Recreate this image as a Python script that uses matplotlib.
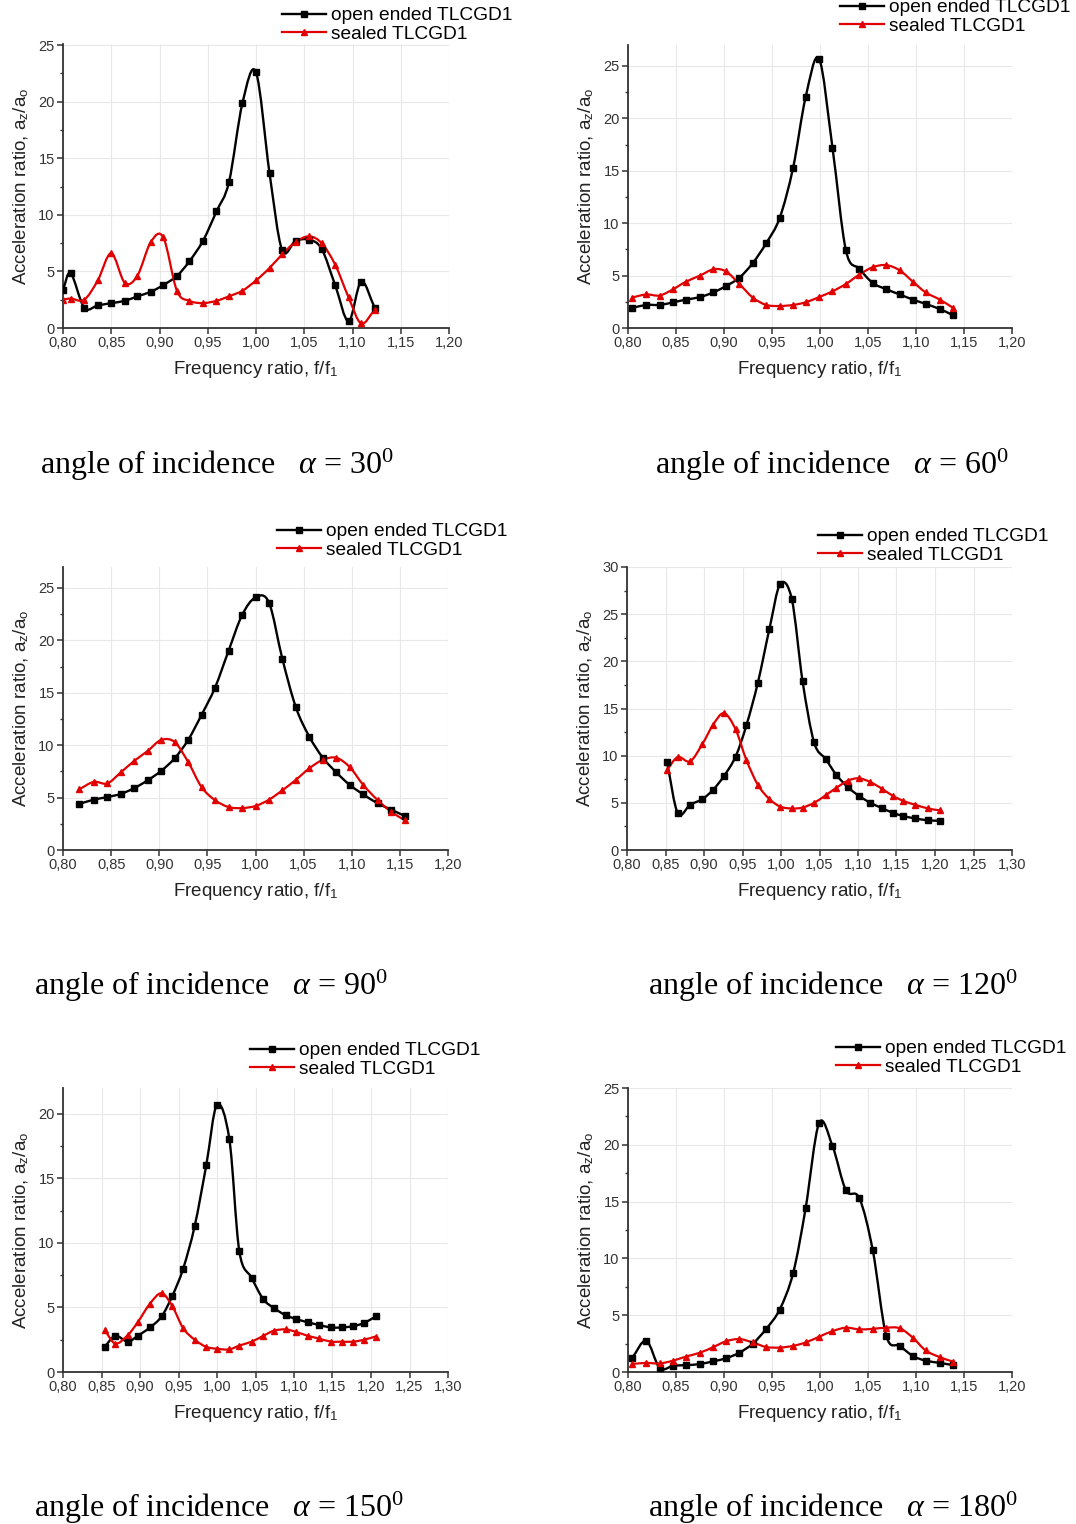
import numpy as np
import matplotlib
matplotlib.use("Agg")
import matplotlib.pyplot as plt
from matplotlib.path import Path
from matplotlib.patches import PathPatch
from matplotlib.lines import Line2D
from matplotlib.ticker import MultipleLocator, FuncFormatter

plt.rcParams['font.family'] = ['Liberation Sans', 'DejaVu Sans']
plt.rcParams['mathtext.fontset'] = 'custom'
plt.rcParams['mathtext.rm'] = 'Liberation Serif'
plt.rcParams['mathtext.it'] = 'Liberation Serif:italic'
plt.rcParams['mathtext.sf'] = 'Liberation Sans'

# ---- data ----
# alpha = 30
f30 = [0.800, 0.808, 0.822, 0.836, 0.850, 0.864, 0.877, 0.891, 0.904, 0.918, 0.931, 0.945, 0.959,
       0.972, 0.986, 1.000, 1.014, 1.027, 1.041, 1.055, 1.068, 1.082, 1.096, 1.109, 1.123]
open30 = [3.4, 4.85, 1.8, 2.0, 2.2, 2.4, 2.8, 3.2, 3.8, 4.6, 5.9, 7.7, 10.3,
          12.9, 19.9, 22.6, 13.7, 6.9, 7.7, 7.8, 7.0, 3.8, 0.6, 4.1, 1.8]
sealed30 = [2.5, 2.6, 2.5, 4.2, 6.6, 4.0, 4.6, 7.6, 8.0, 3.3, 2.4, 2.2, 2.4,
            2.8, 3.3, 4.2, 5.3, 6.5, 7.6, 8.1, 7.5, 5.6, 2.7, 0.4, 1.6]

# alpha = 60
f60 = [0.804, 0.819, 0.833, 0.847, 0.860, 0.875, 0.889, 0.902, 0.916, 0.930, 0.944, 0.958, 0.972,
       0.985, 0.999, 1.013, 1.027, 1.041, 1.055, 1.069, 1.083, 1.097, 1.110, 1.125, 1.139]
open60 = [1.9, 2.2, 2.2, 2.45, 2.7, 2.95, 3.4, 4.0, 4.8, 6.2, 8.1, 10.5, 15.3,
          22.0, 25.7, 17.2, 7.4, 5.65, 4.3, 3.7, 3.2, 2.7, 2.3, 1.8, 1.2]
sealed60 = [2.9, 3.2, 3.1, 3.7, 4.4, 5.0, 5.6, 5.4, 4.2, 2.9, 2.2, 2.1, 2.2,
            2.45, 2.95, 3.5, 4.2, 5.1, 5.8, 6.0, 5.5, 4.4, 3.4, 2.7, 1.9]

# alpha = 90
f90 = [0.817, 0.832, 0.846, 0.860, 0.874, 0.888, 0.902, 0.916, 0.930, 0.944, 0.958, 0.972, 0.986,
       1.000, 1.014, 1.028, 1.042, 1.056, 1.070, 1.084, 1.098, 1.112, 1.127, 1.141, 1.155]
open90 = [4.4, 4.8, 5.05, 5.35, 5.9, 6.65, 7.55, 8.75, 10.5, 12.9, 15.5, 19.0, 22.4,
          24.1, 23.6, 18.2, 13.6, 10.8, 8.8, 7.4, 6.2, 5.3, 4.45, 3.85, 3.25]
sealed90 = [5.8, 6.5, 6.35, 7.4, 8.5, 9.45, 10.5, 10.3, 8.4, 6.0, 4.75, 4.1, 4.0,
            4.2, 4.8, 5.7, 6.7, 7.8, 8.6, 8.8, 7.9, 6.2, 4.75, 3.65, 2.85]

# alpha = 120
f120 = [0.852, 0.866, 0.882, 0.898, 0.912, 0.926, 0.941, 0.955, 0.970, 0.985, 0.999, 1.014, 1.028,
        1.043, 1.058, 1.072, 1.087, 1.101, 1.116, 1.131, 1.145, 1.159, 1.174, 1.191, 1.206]
open120 = [9.3, 3.9, 4.8, 5.4, 6.4, 7.85, 9.9, 13.2, 17.75, 23.45, 28.2, 26.6, 17.9,
           11.4, 9.65, 7.95, 6.65, 5.75, 5.0, 4.45, 3.95, 3.6, 3.35, 3.15, 3.1]
sealed120 = [8.5, 9.85, 9.4, 11.25, 13.3, 14.5, 12.8, 9.55, 6.9, 5.4, 4.6, 4.4, 4.5,
             5.0, 5.8, 6.6, 7.35, 7.6, 7.2, 6.5, 5.75, 5.2, 4.8, 4.4, 4.2]

# alpha = 150
f150 = [0.854, 0.868, 0.884, 0.897, 0.913, 0.928, 0.942, 0.956, 0.971, 0.986, 1.000, 1.016, 1.029,
        1.045, 1.060, 1.074, 1.089, 1.103, 1.118, 1.132, 1.148, 1.162, 1.177, 1.191, 1.206]
open150 = [1.95, 2.8, 2.35, 2.8, 3.45, 4.3, 5.9, 8.0, 11.3, 16.0, 20.7, 18.05, 9.35,
           7.3, 5.65, 4.95, 4.4, 4.1, 3.85, 3.65, 3.45, 3.45, 3.55, 3.8, 4.3]
sealed150 = [3.25, 2.2, 2.85, 3.85, 5.3, 6.1, 5.1, 3.4, 2.5, 1.95, 1.8, 1.75, 2.05,
             2.35, 2.8, 3.2, 3.3, 3.1, 2.8, 2.6, 2.35, 2.35, 2.35, 2.5, 2.75]

# alpha = 180
f180 = [0.804, 0.819, 0.833, 0.847, 0.860, 0.875, 0.889, 0.902, 0.916, 0.930, 0.944, 0.958, 0.972,
        0.985, 0.999, 1.013, 1.027, 1.041, 1.055, 1.069, 1.083, 1.097, 1.110, 1.125, 1.139]
open180 = [1.2, 2.75, 0.35, 0.55, 0.6, 0.7, 0.95, 1.2, 1.7, 2.5, 3.8, 5.5, 8.7,
           14.4, 21.9, 19.9, 16.0, 15.3, 10.7, 3.2, 2.3, 1.4, 1.0, 0.8, 0.6]
sealed180 = [0.7, 0.8, 0.75, 1.0, 1.35, 1.7, 2.2, 2.7, 2.9, 2.6, 2.2, 2.15, 2.3,
             2.6, 3.1, 3.6, 3.9, 3.75, 3.8, 3.9, 3.85, 3.0, 1.9, 1.3, 0.9]

angles = [30, 60, 90, 120, 150, 180]
freqs = [f30, f60, f90, f120, f150, f180]
opens = [open30, open60, open90, open120, open150, open180]
sealeds = [sealed30, sealed60, sealed90, sealed120, sealed150, sealed180]
xmaxs = [1.20, 1.20, 1.20, 1.30, 1.30, 1.20]
ymaxs = [25.1, 27.0, 27.0, 30.0, 22.0, 25.0]

W, H = 1076, 1524
# axes boxes in pixels: left, right, top, bottom
boxes = [(63, 449, 44, 328), (628, 1012, 45, 328),
         (63, 448, 567, 850), (627, 1012, 567, 850),
         (63, 448, 1088, 1372), (628, 1012, 1088, 1372)]
legend_pos = [(282, 7), (840, -1), (277, 523), (818, 528), (250, 1042), (836, 1040)]
caption_pos = [(40, 474), (655, 474), (34, 995), (648, 995), (34, 1517), (648, 1517)]


def spline_path(x, y):
    # smooth (Catmull-Rom) connection drawn as cubic Bezier segments
    x = np.asarray(x, float)
    y = np.asarray(y, float)
    px = np.concatenate([[2 * x[0] - x[1]], x, [2 * x[-1] - x[-2]]])
    py = np.concatenate([[2 * y[0] - y[1]], y, [2 * y[-1] - y[-2]]])
    verts = [(x[0], y[0])]
    codes = [Path.MOVETO]
    for i in range(len(x) - 1):
        c1 = (px[i + 1] + (px[i + 2] - px[i]) / 6, py[i + 1] + (py[i + 2] - py[i]) / 6)
        c2 = (px[i + 2] - (px[i + 3] - px[i + 1]) / 6, py[i + 2] - (py[i + 3] - py[i + 1]) / 6)
        verts += [c1, c2, (x[i + 1], y[i + 1])]
        codes += [Path.CURVE4] * 3
    return Path(verts, codes)


fig = plt.figure(figsize=(W / 100, H / 100), dpi=100)
fig.patch.set_facecolor('white')

comma = FuncFormatter(lambda v, p: f"{v:.2f}".replace('.', ','))

for k in range(6):
    l, r, t, b = boxes[k]
    ax = fig.add_axes([l / W, 1 - b / H, (r - l) / W, (b - t) / H])
    f = freqs[k]

    ax.add_patch(PathPatch(spline_path(f, opens[k]), fill=False, ec='black', lw=1.7, zorder=3))
    ax.add_patch(PathPatch(spline_path(f, sealeds[k]), fill=False, ec='#e00000', lw=1.6, zorder=3))
    ax.plot(f, opens[k], ls='none', marker='s', ms=4, color='black', zorder=4)
    ax.plot(f, sealeds[k], ls='none', marker='^', ms=4.5, color='#e00000', zorder=4)

    ax.set_xlim(0.80, xmaxs[k])
    ax.set_ylim(0, ymaxs[k])
    ax.xaxis.set_major_locator(MultipleLocator(0.05))
    ax.xaxis.set_major_formatter(comma)
    ax.yaxis.set_major_locator(MultipleLocator(5))
    ax.yaxis.set_minor_locator(MultipleLocator(2.5))
    ax.grid(True, which='major', color='#e8e8e8', lw=0.8)
    ax.set_axisbelow(True)
    for s in ['top', 'right']:
        ax.spines[s].set_visible(False)
    for s in ['left', 'bottom']:
        ax.spines[s].set_color('#333333')
        ax.spines[s].set_linewidth(1.3)
    ax.tick_params(which='major', direction='out', length=4, width=1.1, color='#333333',
                   labelsize=10.5, labelcolor='#333333', pad=2)
    ax.tick_params(which='minor', direction='out', length=2.5, width=1.0, color='#333333')
    ax.tick_params(axis='x', which='minor', length=0)

    ax.set_xlabel(r"Frequency ratio, f/f$_\mathsf{1}$", fontsize=13.5, color='#222222', labelpad=6)
    ax.set_ylabel(r"Acceleration ratio, a$_\mathsf{z}$/a$_\mathsf{o}$", fontsize=13.5,
                  color='#222222', labelpad=5)

    handles = [Line2D([], [], color='black', lw=1.7, marker='s', ms=4),
               Line2D([], [], color='#e00000', lw=1.6, marker='^', ms=4.5)]
    lx, ly = legend_pos[k]
    ax.legend(handles, ['open ended TLCGD1', 'sealed TLCGD1'], loc='upper left',
              bbox_to_anchor=(lx / W, 1 - ly / H), bbox_transform=fig.transFigure,
              frameon=False, fontsize=13.8, borderpad=0, borderaxespad=0,
              handlelength=2.3, handletextpad=0.25, labelspacing=0.05)

    cx, cy = caption_pos[k]
    fig.text(cx / W, 1 - cy / H, "angle of incidence   $\\alpha$ = %d$^{0}$" % angles[k],
             family='Liberation Serif', fontsize=23, va='baseline', ha='left')

fig.savefig("out.png", dpi=100, facecolor='white')
